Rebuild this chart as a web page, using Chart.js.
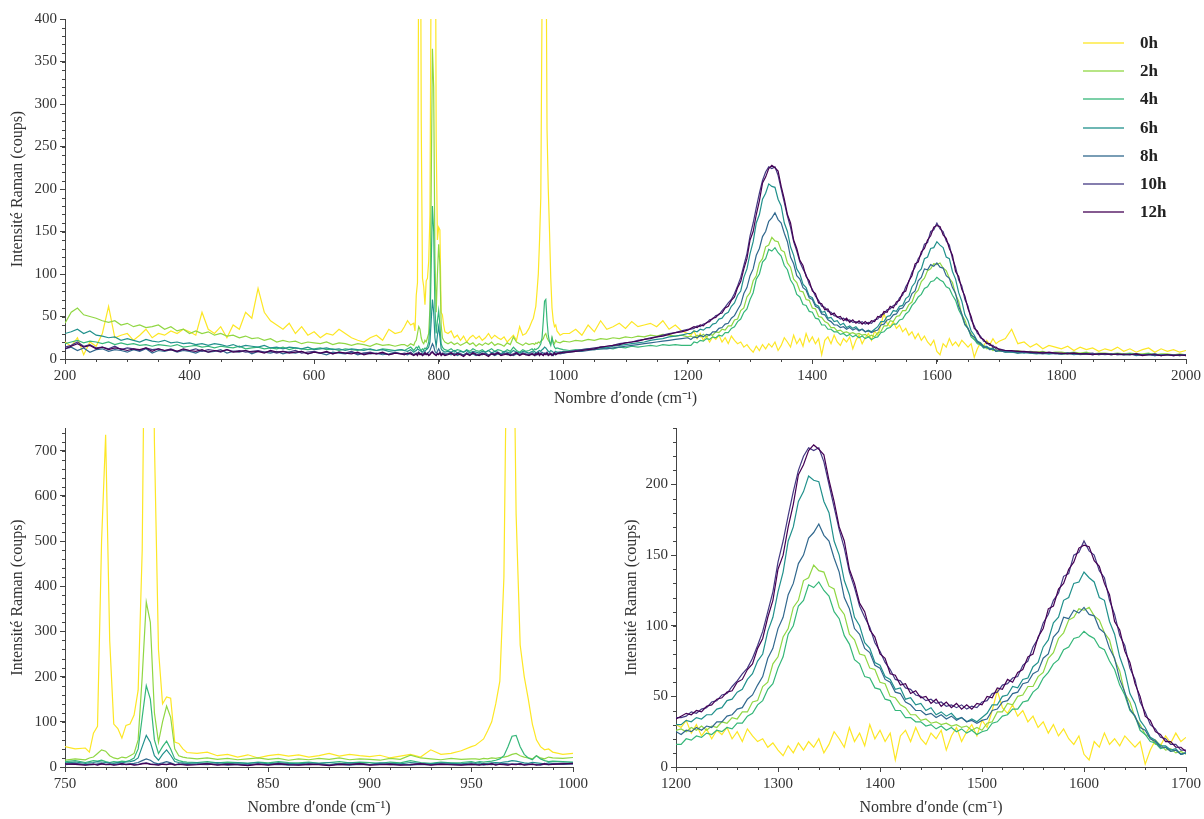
<!DOCTYPE html>
<html><head><meta charset="utf-8">
<script src="https://cdn.jsdelivr.net/npm/chart.js@4.4.1/dist/chart.umd.min.js"></script>
<style>
html,body{margin:0;padding:0;background:#fff;}
#wrap{position:relative;width:1204px;height:819px;overflow:hidden;background:#fff;}
canvas{position:absolute;}
#legend{position:absolute;left:1083px;top:29px;font-family:'Liberation Serif',serif;font-weight:bold;font-size:17px;color:#222;}
.item{display:flex;align-items:center;height:28.2px;}
.item .ln{display:inline-block;width:41px;height:0;border-top:2px solid;margin-right:16px;}
</style></head>
<body><div id="wrap">
<canvas id="cTop" width="1204" height="415" style="left:0;top:0"></canvas>
<canvas id="cLeft" width="600" height="404" style="left:0;top:415px"></canvas>
<canvas id="cRight" width="604" height="404" style="left:600px;top:415px"></canvas>
<div id="legend"></div>
</div>
<script>
// ---------- DATA ----------
const seriesLabels = ['0h','2h','4h','6h','8h','10h','12h'];
const waveLow   = [200,210,220,230,240,250,260,270,280,290,300,310,320,330,340,350,360,370,380,390,400,410,420,430,440,450,460,470,480,490,500,510,520,530,540,550,560,570,580,590,600,610,620,630,640,650,660,670,680,690,700,710,720,730,740];
const wavePeaks = [745,750,755,760,762,764,766,768,770,772,774,776,778,780,782,784,786,788,790,792,794,796,798,800,802,804,806,808,810,815,820,825,830,835,840,845,850,855,860,865,870,875,880,885,890,895,900,905,910,915,920,925,930,935,940,945,950,952,954,956,958,960,962,964,966,968,970,972,974,976,978,980,982,984,986,988,990,995,1000];
const waveMid   = [1010,1020,1030,1040,1050,1060,1070,1080,1090,1100,1110,1120,1130,1140,1150,1160,1170,1180,1190,1200];
const waveBands = [1205,1210,1215,1220,1225,1230,1235,1240,1245,1250,1255,1260,1265,1270,1275,1280,1285,1290,1295,1300,1305,1310,1315,1320,1325,1330,1335,1340,1345,1350,1355,1360,1365,1370,1375,1380,1385,1390,1395,1400,1405,1410,1415,1420,1425,1430,1435,1440,1445,1450,1455,1460,1465,1470,1475,1480,1485,1490,1495,1500,1505,1510,1515,1520,1525,1530,1535,1540,1545,1550,1555,1560,1565,1570,1575,1580,1585,1590,1595,1600,1605,1610,1615,1620,1625,1630,1635,1640,1645,1650,1655,1660,1665,1670,1675,1680,1685,1690,1695,1700];
const waveHigh  = [1710,1720,1730,1740,1750,1760,1770,1780,1790,1800,1810,1820,1830,1840,1850,1860,1870,1880,1890,1900,1910,1920,1930,1940,1950,1960,1970,1980,1990,2000];
const wavenumber = [...waveLow, ...wavePeaks, ...waveMid, ...waveBands, ...waveHigh];

const i0h = [
 20,15,25,5,20,15,30,62,25,28,30,22,28,35,25,30,28,33,30,35,32,28,55,35,30,38,25,40,35,55,48,83,55,45,40,35,42,30,38,28,32,25,30,28,35,30,25,22,20,25,28,22,35,30,32,
 38,45,40,42, 33,75,90,500,735,280,95,85,64,92,95,115,170,480,1400,1600,720,260,140,155,152,55,52,40,32, 30,33,25,28,22,27,20,25,28,24,27,22,25,30,24,28,25,23,26,20,24,28,22,38,28,30,36,45, 48,55,62,80,100,140,190,420,1200,1300,560,270,200,150,95,60,45,38,40,33, 28,30,
 30,35,28,40,32,45,35,38,42,36,44,38,40,42,38,45,35,40,33,30,
 28,33,24,30,22,27,20,26,23,28, 20,25,18,27,22,18,20,14,17,12, 8,15,10,17,12,18,14,20,10,16, 25,20,14,28,18,24,15,30,20,26, 18,24,5,22,26,18,28,20,16,24, 20,26,12,22,28,18,25,30,22,33, 28,40,54,42,38,44,36,40,32,36, 28,32,24,30,22,27,20,16,22,9, 5,18,14,24,16,20,15,22,18,14, 18,2,12,19,15,22,17,24,18,21,
 24,35,18,20,14,18,12,16,14,12,15,10,14,11,13,9,12,10,14,9,12,8,11,13,8,12,9,11,8,10];
const i2h = [
 42,55,60,52,50,48,45,43,45,40,42,38,40,37,38,40,35,38,33,35,30,33,30,32,28,30,27,28,25,27,24,25,22,24,20,22,20,21,18,20,19,18,20,17,19,18,16,18,17,15,18,16,17,15,17,
 17,15,18,16, 20,22,30,38,35,25,20,18,22,20,25,30,60,200,365,320,120,55,100,135,110,40,25,22,20, 18,20,17,19,16,18,20,17,19,15,18,16,19,17,20,16,18,17,15,19,17,26,20,18,16,19,17,18, 18,17,19,18,20,19,21,22,24,28,30,25,22,20,18,25,20,18,22,20, 19,21,
 20,22,21,23,22,24,23,25,24,26,25,27,26,28,27,29,28,27,28,26,
 27,25,28,26,29,26,29,28,32,31, 35,34,39,39,46,47,57,60,73,78, 92,98,113,118,132,134,143,139,138,128, 126,113,108,94,90,80,79,70,69,60, 59,50,49,44,42,37,37,33,34,31, 32,30,31,29,30,28,29,26,28,26, 31,32,39,39,45,44,50,51,57,57, 64,67,77,81,91,95,104,106,112,111, 113,107,104,95,90,76,68,52,46,35, 30,23,21,16,16,12,13,10,11,9,
 10,9,10,8,9,8,9,7,8,8,7,8,7,8,6,7,7,6,7,6,7,6,6,7,5,6,6,5,6,5];
const i4h = [
 18,20,22,19,21,20,18,20,17,19,17,18,16,17,15,17,16,15,17,14,15,16,14,15,13,15,14,13,15,12,13,14,12,13,12,14,11,13,12,11,12,13,11,12,10,12,11,10,12,11,10,12,11,10,11,
 10,12,14,10, 12,14,13,15,12,10,12,11,13,12,15,20,40,110,180,150,60,30,45,57,40,18,14,12,11, 10,12,9,11,10,8,11,9,12,10,9,11,8,10,12,9,11,10,8,11,9,14,10,8,11,9,10,12, 10,12,11,12,13,15,18,25,45,68,70,45,28,20,16,25,18,14,12,13, 12,11,
 10,11,10,12,11,12,13,12,14,13,15,14,15,16,15,17,16,17,16,16,
 16,20,19,22,21,24,23,26,25,28, 27,31,31,36,38,44,47,55,59,70, 78,94,100,114,118,129,127,131,125,121, 110,105,93,87,76,73,64,63,56,55, 48,47,40,40,35,35,32,32,29,30, 27,29,26,28,25,27,24,26,23,25, 26,31,32,36,37,41,41,46,47,53, 56,63,67,73,76,83,85,91,92,96, 93,91,85,83,75,69,58,51,40,36, 26,23,18,17,13,14,11,12,9,10,
 8,8,7,8,7,6,7,6,7,6,6,7,5,6,6,5,6,5,6,5,5,6,5,5,6,4,5,5,4,5];
const i6h = [
 30,32,35,30,33,28,27,25,26,22,24,22,20,23,21,20,22,19,20,18,19,17,18,16,18,17,15,17,14,16,15,14,16,13,14,12,14,13,12,14,11,12,13,11,12,10,12,11,10,12,10,11,9,10,11,
 10,9,11,8, 9,10,12,11,10,9,8,10,9,11,12,14,20,45,70,55,25,15,28,38,26,12,10,9,8, 9,8,10,7,9,8,10,7,9,8,7,9,8,10,7,9,8,6,9,8,7,10,8,7,9,8,7,9, 8,9,7,8,9,10,9,11,12,14,13,11,9,8,10,9,8,7,9,8, 8,9,
 9,10,11,12,12,14,13,15,16,17,18,19,20,22,23,24,26,27,28,30,
 30,33,32,35,34,37,37,41,42,47, 48,53,55,62,66,75,80,96,106,124, 138,160,170,188,195,206,203,202,188,180, 160,150,132,122,106,100,88,84,74,72, 64,62,55,56,48,49,44,45,40,42, 37,39,36,38,34,35,32,34,32,35, 38,44,44,50,51,57,56,62,63,71, 74,85,90,102,106,118,120,130,131,138, 134,131,120,118,103,94,78,68,52,45, 33,28,21,19,15,15,12,13,9,10,
 9,8,8,7,8,7,7,6,7,6,7,6,6,7,5,6,6,5,6,5,6,5,5,6,4,5,5,4,5,5];
const i8h = [
 12,14,10,13,8,11,12,9,11,10,8,11,9,12,7,10,9,11,8,10,9,7,10,8,9,11,7,9,8,10,6,9,8,7,9,6,8,7,9,6,8,7,5,8,7,6,8,5,7,6,7,5,6,8,6,
 6,5,7,5, 6,5,7,8,6,5,6,7,5,6,7,8,10,14,18,15,9,7,9,12,9,6,5,7,6, 6,5,7,4,6,5,7,5,6,4,6,5,7,5,6,4,6,5,7,5,6,4,6,5,7,5,6,5, 5,6,4,6,5,7,6,8,7,6,7,5,6,7,5,6,4,6,5,7, 6,7,
 8,9,9,10,11,12,12,13,14,15,16,17,18,19,20,21,22,23,24,25,
 23,26,25,28,26,29,28,32,32,36, 37,41,42,48,51,58,64,77,84,98, 106,122,130,144,150,162,166,172,164,160, 148,138,120,112,98,94,84,81,72,70, 62,60,53,52,46,44,40,40,37,38, 35,37,34,36,33,35,32,33,31,33, 34,40,41,46,47,52,53,59,60,66, 68,77,80,92,96,106,105,111,109,113, 108,107,98,95,84,77,62,53,41,36, 28,26,20,18,14,14,11,12,9,10,
 8,9,7,8,7,7,6,7,6,6,7,5,6,6,5,6,5,6,5,5,6,4,5,5,4,5,5,4,5,4];
const i10h = [
 14,16,20,15,17,13,14,12,15,11,13,12,10,13,11,12,10,12,9,11,10,12,9,11,10,8,11,9,10,8,9,10,8,9,7,9,8,10,7,8,9,7,8,6,8,7,9,6,7,8,6,7,5,7,6,
 7,6,8,5, 6,7,5,8,6,7,5,6,8,6,7,5,6,8,9,7,6,5,7,6,8,5,7,6,5, 6,8,5,7,6,4,7,5,8,6,5,7,6,4,7,6,8,5,6,7,5,6,8,5,7,6,5,7, 6,5,7,6,8,5,7,6,5,7,6,8,5,6,7,5,6,8,6,7, 8,7,
 9,10,11,12,13,14,15,16,18,19,20,22,23,25,26,28,30,31,33,35,
 35,36,39,38,41,42,46,47,51,52, 57,61,66,70,77,86,96,110,124,145, 160,178,195,210,220,226,224,226,216,200, 184,168,155,138,127,114,106,99,88,82, 74,69,62,61,56,55,51,50,47,48, 45,46,43,44,42,44,41,43,42,46, 47,52,53,58,59,63,64,72,75,85, 91,102,108,118,123,135,137,150,152,160, 153,150,139,134,118,108,93,86,70,62, 46,39,30,27,21,20,16,16,12,12,
 10,9,9,8,8,7,8,7,7,6,7,7,6,6,7,5,6,6,5,6,5,6,5,5,6,4,5,5,4,5];
const i12h = [
 12,15,18,14,16,12,14,11,13,12,10,12,11,13,9,12,10,11,9,12,10,9,11,8,10,9,11,8,9,10,8,9,7,10,8,9,7,8,9,6,8,7,9,6,8,7,6,8,5,7,6,8,5,7,6,
 5,7,6,4, 5,6,4,7,5,6,4,5,7,5,6,4,5,7,8,6,5,4,6,5,7,4,6,5,4, 5,7,4,6,5,3,6,4,7,5,4,6,5,3,6,5,7,4,5,6,4,5,7,4,6,5,4,6, 5,4,6,5,7,4,6,5,4,6,5,7,4,5,6,4,5,7,5,6, 7,8,
 8,9,10,11,12,14,15,16,17,19,20,21,23,24,26,27,29,31,32,34,
 36,38,37,40,39,43,44,48,49,53, 54,60,62,69,73,84,91,106,118,140, 150,170,186,207,214,224,228,225,221,203, 188,170,160,140,130,116,110,97,92,80, 77,66,65,58,59,52,54,49,50,45, 48,43,46,42,45,41,44,41,45,44, 50,49,56,55,62,60,67,69,78,80, 92,98,112,114,126,130,140,145,155,157, 156,146,142,130,122,103,97,82,74,59, 50,36,33,25,23,18,18,14,14,11,
 10,10,9,9,8,8,7,8,7,7,6,7,6,6,5,6,6,5,6,5,5,6,4,5,5,4,5,4,5,4];
const intensities = [i0h, i2h, i4h, i6h, i8h, i10h, i12h];

// ---------- STYLE ----------
const seriesColors = ['#fde725','#90d743','#35b779','#21918c','#31688e','#443983','#440154'];
const AXIS = '#444';
const FONT = "'Liberation Serif', 'Times New Roman', serif";

intensities.forEach((s, k) => {
  if (s.length !== wavenumber.length) throw new Error('length mismatch ' + seriesLabels[k] + ': ' + s.length + ' vs ' + wavenumber.length);
});

const minorTicks = {
  id: 'minorTicks',
  afterDraw(chart, args, opts) {
    const ctx = chart.ctx, a = chart.chartArea, xs = chart.scales.x, ys = chart.scales.y;
    ctx.save();
    ctx.strokeStyle = AXIS; ctx.lineWidth = 1;
    ctx.beginPath();
    for (let v = xs.min; v <= xs.max + 1e-9; v += opts.x) {
      const p = Math.round(xs.getPixelForValue(v)) + 0.5;
      ctx.moveTo(p, a.bottom); ctx.lineTo(p, a.bottom + 3);
    }
    for (let v = ys.min; v <= ys.max + 1e-9; v += opts.y) {
      const p = Math.round(ys.getPixelForValue(v)) + 0.5;
      ctx.moveTo(a.left - 3, p); ctx.lineTo(a.left, p);
    }
    ctx.stroke();
    ctx.restore();
  }
};

function makeChart(id, c) {
  const datasets = intensities.map((s, k) => ({
    label: seriesLabels[k],
    data: wavenumber.map((x, i) => ({x: x, y: s[i]})),
    borderColor: seriesColors[k],
    borderWidth: 1.2,
    pointRadius: 0,
    tension: 0,
    fill: false,
    order: 6 - k
  }));
  const tickFont = {family: FONT, size: 15};
  const titleFont = {family: FONT, size: 16};
  return new Chart(document.getElementById(id), {
    type: 'line',
    data: {datasets},
    plugins: [minorTicks],
    options: {
      responsive: false, animation: false, devicePixelRatio: 1,
      layout: {padding: c.padding},
      plugins: {legend: {display: false}, tooltip: {enabled: false}, minorTicks: {x: c.xMinor, y: c.yMinor}},
      scales: {
        x: {
          type: 'linear', min: c.xMin, max: c.xMax,
          afterFit: s => { s.height = c.xH; },
          ticks: {stepSize: c.xStep, includeBounds: false, autoSkip: false, maxRotation: 0, color: '#333', font: tickFont, padding: 3, callback: v => String(v)},
          grid: {display: true, drawOnChartArea: false, drawTicks: true, tickLength: 5, color: AXIS},
          border: {display: true, color: AXIS, width: 1},
          title: {display: true, text: 'Nombre d\u2032onde (cm\u207B\u00B9)', color: '#333', font: titleFont, padding: {top: 0, bottom: c.xTitlePad}}
        },
        y: {
          type: 'linear', min: c.yMin, max: c.yMax,
          afterFit: s => { s.width = c.yW; },
          ticks: {stepSize: c.yStep, includeBounds: false, autoSkip: false, color: '#333', font: tickFont, padding: 3, callback: v => String(v)},
          grid: {display: true, drawOnChartArea: false, drawTicks: true, tickLength: 5, color: AXIS},
          border: {display: true, color: AXIS, width: 1},
          title: {display: true, text: 'Intensit\u00E9 Raman (coups)', color: '#333', font: titleFont, padding: {top: c.yTitlePad, bottom: 0}}
        }
      }
    }
  });
}

makeChart('cTop', {xMin: 200, xMax: 2000, xStep: 200, xMinor: 50, yMin: 0, yMax: 400, yStep: 50, yMinor: 10,
  yW: 65, xH: 56, padding: {top: 19, right: 17, bottom: 0, left: 0}, xTitlePad: 7, yTitlePad: 8});
makeChart('cLeft', {xMin: 750, xMax: 1000, xStep: 50, xMinor: 10, yMin: 0, yMax: 750, yStep: 100, yMinor: 20,
  yW: 65, xH: 52, padding: {top: 13, right: 27, bottom: 0, left: 0}, xTitlePad: 2, yTitlePad: 8});
makeChart('cRight', {xMin: 1200, xMax: 1700, xStep: 100, xMinor: 20, yMin: 0, yMax: 240, yStep: 50, yMinor: 10,
  yW: 76, xH: 52, padding: {top: 13, right: 17, bottom: 0, left: 0}, xTitlePad: 2, yTitlePad: 22});

// legend (HTML, real text)
const lg = document.getElementById('legend');
seriesLabels.forEach((lab, k) => {
  const it = document.createElement('div'); it.className = 'item';
  const ln = document.createElement('span'); ln.className = 'ln';
  ln.style.borderTopColor = seriesColors[k]; ln.style.opacity = '0.65';
  const tx = document.createElement('span'); tx.textContent = lab;
  it.appendChild(ln); it.appendChild(tx); lg.appendChild(it);
});
</script>
</body></html>
